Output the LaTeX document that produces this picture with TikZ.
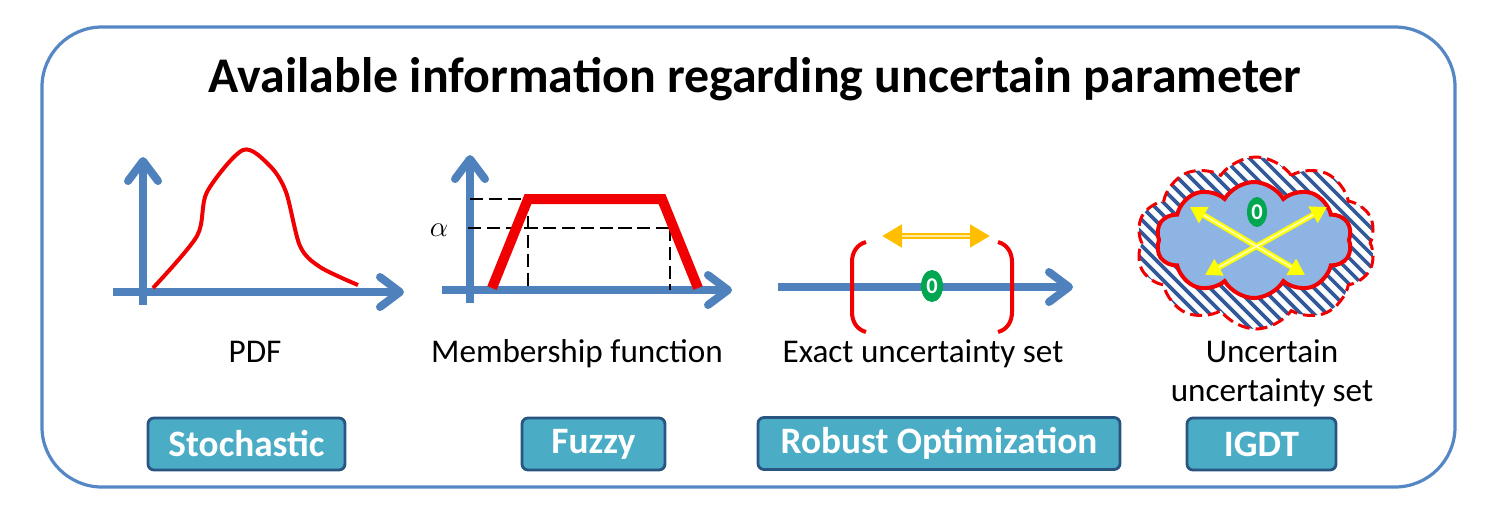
\documentclass[tikz,border=0pt]{standalone}
\usepackage{fontspec}
\setmainfont{Carlito}
\usepackage{tikz}
\usetikzlibrary{arrows.meta,positioning,shapes.geometric,shapes.symbols}
\definecolor{frameblue}{RGB}{84,135,196}
\definecolor{axisblue}{RGB}{79,129,189}
\definecolor{red2}{RGB}{240,0,0}
\definecolor{green2}{RGB}{0,166,80}
\definecolor{gold2}{RGB}{255,190,0}
\definecolor{lightgold}{RGB}{255,236,160}
\definecolor{yellow2}{RGB}{255,255,0}
\definecolor{lightyellow}{RGB}{255,255,190}
\definecolor{cloudblue}{RGB}{142,180,227}
\definecolor{hatchblue}{RGB}{50,90,155}
\definecolor{btnfill}{RGB}{75,172,198}
\definecolor{btnedge}{RGB}{40,85,130}
\tikzset{
  panel/.style={draw=frameblue, line width=0.8mm, rounded corners=15mm},
  titletext/.style={font=\bfseries\fontsize{35.5}{42}\selectfont},
  axisline/.style={draw=axisblue, line width=2mm,
    -{Straight Barb[length=5mm,width=7.5mm,round]}},
  pdfcurve/.style={draw=red2, line width=1mm},
  trapline/.style={draw=red2, line width=2.5mm},
  levelline/.style={draw=black, line width=0.7mm, dash pattern=on 3.3mm off 1.4mm},
  bracket/.style={draw=red2, line width=1mm},
  zero/.style={ellipse, fill=green2, text=white, inner sep=0pt,
    font=\bfseries\fontsize{16}{16}\selectfont},
  goldarrow/.style={draw=gold2, line width=1.5mm,
    {Triangle[length=5mm,width=5.5mm]}-{Triangle[length=5mm,width=5.5mm]}},
  goldcore/.style={draw=lightgold, line width=0.4mm, shorten >=5mm, shorten <=5mm},
  yelarrow/.style={draw=yellow2, line width=1.4mm,
    {Triangle[length=4mm,width=4.5mm]}-{Triangle[length=4mm,width=4.5mm]}},
  yelcore/.style={draw=lightyellow, line width=0.4mm, shorten >=4mm, shorten <=4mm},
  hatch/.style={draw=hatchblue, line width=0.9mm, solid},
  outercloud/.style={cloud, cloud puffs=10, cloud puff arc=110, draw=red2,
    line width=0.75mm, dash pattern=on 3mm off 1.5mm, fill=white, inner sep=0pt,
    path picture={\foreach \hx in {-70,-66.75,...,70}
      \draw[hatch] ([xshift=\hx mm]path picture bounding box.north west) -- ++(260,260);}},
  innercloud/.style={cloud, cloud puffs=10, cloud puff arc=120, draw=red2,
    line width=1mm, fill=cloudblue, inner sep=0pt},
  lbl/.style={font=\fontsize{23.6}{27.6}\selectfont, align=center},
  btn/.style={draw=btnedge, line width=0.7mm, fill=btnfill, rounded corners=1.5mm,
    text=white, minimum height=13mm, font=\bfseries\fontsize{26.5}{30}\selectfont}
}
\begin{document}
\begin{tikzpicture}[x=0.25mm,y=-0.25mm]
\useasboundingbox (0,0) rectangle (1495,520);
\node[panel, minimum width=353.25mm, minimum height=115mm] (panel) at (748.5,257) {};
\node[titletext, anchor=base] (title) at (755,92) {Available information regarding uncertain parameter};

% PDF
\draw[axisline] (143,305) -- (143,157);
\draw[axisline] (113,292) -- (404,292);
\draw[pdfcurve] plot[smooth, tension=0.5] coordinates {(153,288) (197,236) (207,192)
  (243,150) (270,166) (286,192) (300,246) (320,267) (358,285)};

% membership function
\draw[axisline] (470,303) -- (470,155);
\draw[axisline] (442,290) -- (732,290);
\draw[levelline] (470,199) -- (528,199) -- (528,290);
\draw[levelline] (468,228) -- (678,228);
\draw[levelline] (670,228) -- (670,290);
\draw[trapline] (492,288) -- (528,199) -- (662,199) -- (698,288);
\node[font=\fontsize{22}{22}\selectfont] (alpha) at (439,230) {$\alpha$};

% exact set
\draw[axisline] (778,287) -- (1073,287);
\draw[bracket] (866,242) to[out=195,in=90] (852,262) -- (852,312) to[out=-90,in=165] (866,332);
\draw[bracket] (998,242) to[out=-15,in=90] (1012,262) -- (1012,312) to[out=-90,in=15] (998,332);
\node[zero, minimum width=5.5mm, minimum height=8mm] (zeroA) at (932,286) {0};
\coordinate (leftA) at (882,236);
\coordinate (rightA) at (990,236);
\draw[goldarrow] (leftA) -- (rightA);
\draw[goldcore] (leftA) -- (rightA);

% uncertain set
\node[outercloud, minimum width=60mm, minimum height=43mm] (outer) at (1256,243) {};
\node[innercloud, minimum width=49mm, minimum height=29mm] (inner) at (1254,240) {};
\node[zero, minimum width=5mm, minimum height=7.5mm] (zeroB) at (1257,212) {0};
\coordinate (tl) at (1190,207);
\coordinate (tr) at (1327,207);
\coordinate (bl) at (1205,275);
\coordinate (br) at (1305,275);
\draw[yelarrow] (tl) -- (br);
\draw[yelarrow] (tr) -- (bl);
\draw[yelcore] (tl) -- (br);
\draw[yelcore] (tr) -- (bl);

% labels
\node[lbl, anchor=base] (pdflbl) at (255,362) {PDF};
\node[lbl, anchor=base] (mflbl) at (577,362) {Membership function};
\node[lbl, anchor=base] (exlbl) at (923,362) {Exact uncertainty set};
\node[lbl, anchor=base] (unlbl) at (1272,401) {Uncertain\\uncertainty set};

% methods
\node[btn, minimum width=49.25mm] (stoch) at (246.5,444) {Stochastic};
\node[btn, minimum width=35.75mm] (fuzzy) at (593.5,444) {Fuzzy};
\node[btn, minimum width=90.5mm] (robust) at (939,443.5) {Robust Optimization};
\node[btn, minimum width=37.25mm] (igdt) at (1261.5,444) {IGDT};
\end{tikzpicture}
\end{document}
